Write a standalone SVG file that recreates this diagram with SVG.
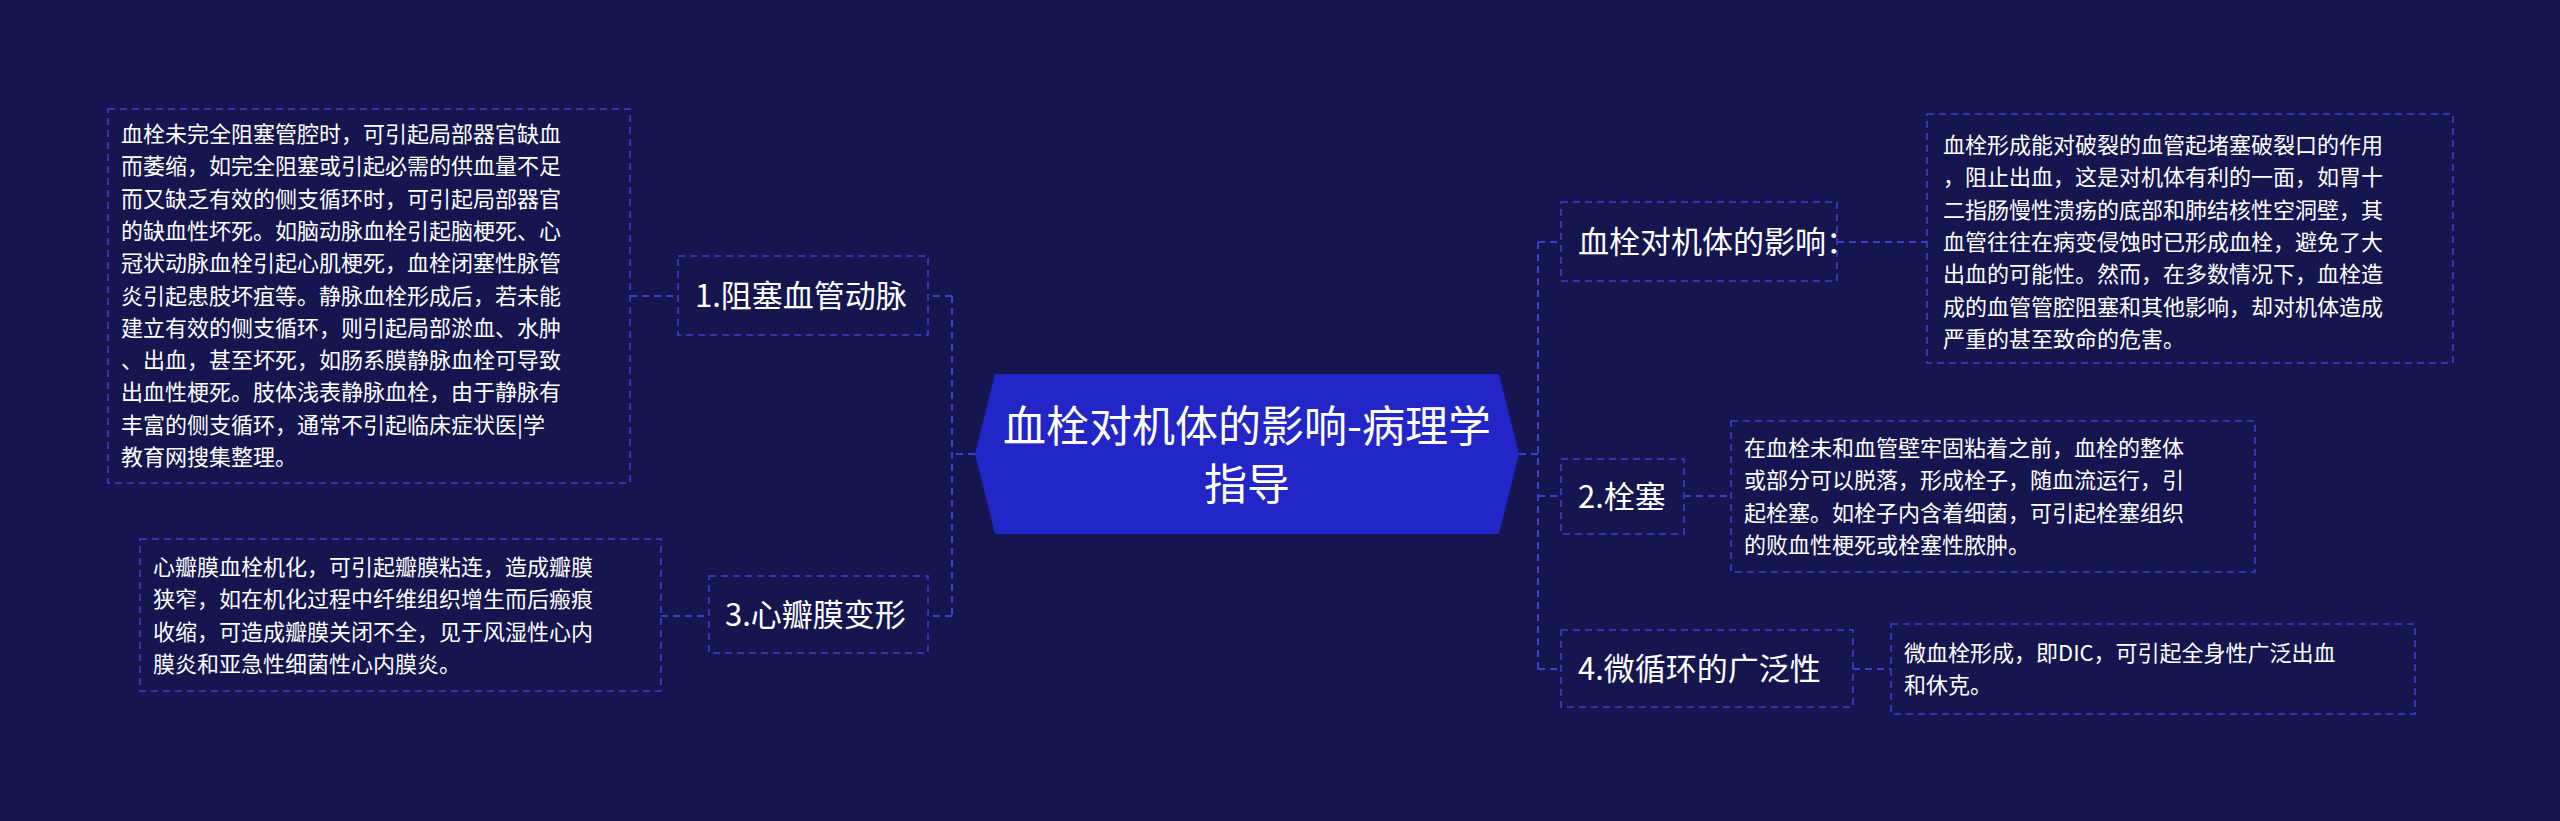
<svg xmlns="http://www.w3.org/2000/svg" width="2560" height="821" viewBox="0 0 2560 821">
<style>
.bx{fill:none;stroke:#3a3fd0;stroke-width:1.6;stroke-dasharray:7 5}
.ln{fill:none;stroke:#3a3fd0;stroke-width:2;stroke-dasharray:7 5}
.t{font-family:"Noto Sans CJK SC","Noto Sans",sans-serif;fill:#fff}
.s{font-size:22px}
.n{font-size:31px}
</style>
<rect width="2560" height="821" fill="#15164f"/>
<g id="connectors">
<path class="ln" d="M975 454H952M952 296V616M952 296H928M952 616H928M630 296H678M661 616H709"/>
<path class="ln" d="M1519 454H1538M1538 242V669M1538 242H1561M1538 496H1561M1538 669H1561M1837 242H1927M1684 496H1731M1853 669H1891"/>
</g>
<g id="center">
<polygon points="975,454 995,374 1499,374 1519,454 1499,534 995,534" fill="#2326c6"/>
<text class="t" x="1247" y="442" font-size="43" text-anchor="middle">血栓对机体的影响-病理学</text>
<text class="t" x="1247" y="500" font-size="43" text-anchor="middle">指导</text>
</g>
<g id="n1">
<rect class="bx" x="678" y="256" width="250" height="79"/>
<text class="t n" x="695" y="307">1.阻塞血管动脉</text>
</g>
<g id="d1">
<rect class="bx" x="108" y="109" width="522" height="374"/>
<text class="t s" x="121" y="142"><tspan x="121">血栓未完全阻塞管腔时，可引起局部器官缺血</tspan><tspan x="121" dy="32.3">而萎缩，如完全阻塞或引起必需的供血量不足</tspan><tspan x="121" dy="32.3">而又缺乏有效的侧支循环时，可引起局部器官</tspan><tspan x="121" dy="32.3">的缺血性坏死。如脑动脉血栓引起脑梗死、心</tspan><tspan x="121" dy="32.3">冠状动脉血栓引起心肌梗死，血栓闭塞性脉管</tspan><tspan x="121" dy="32.3">炎引起患肢坏疽等。静脉血栓形成后，若未能</tspan><tspan x="121" dy="32.3">建立有效的侧支循环，则引起局部淤血、水肿</tspan><tspan x="121" dy="32.3">、出血，甚至坏死，如肠系膜静脉血栓可导致</tspan><tspan x="121" dy="32.3">出血性梗死。肢体浅表静脉血栓，由于静脉有</tspan><tspan x="121" dy="32.3">丰富的侧支循环，通常不引起临床症状医|学</tspan><tspan x="121" dy="32.3">教育网搜集整理。</tspan></text>
</g>
<g id="n3">
<rect class="bx" x="709" y="576" width="219" height="77"/>
<text class="t n" x="725" y="626">3.心瓣膜变形</text>
</g>
<g id="d3">
<rect class="bx" x="140" y="539" width="521" height="152"/>
<text class="t s" x="153" y="575"><tspan x="153">心瓣膜血栓机化，可引起瓣膜粘连，造成瓣膜</tspan><tspan x="153" dy="32.3">狭窄，如在机化过程中纤维组织增生而后瘢痕</tspan><tspan x="153" dy="32.3">收缩，可造成瓣膜关闭不全，见于风湿性心内</tspan><tspan x="153" dy="32.3">膜炎和亚急性细菌性心内膜炎。</tspan></text>
</g>
<g id="n0">
<rect class="bx" x="1561" y="202" width="276" height="79"/>
<text class="t n" x="1578" y="253">血栓对机体的影响：</text>
</g>
<g id="d0">
<rect class="bx" x="1927" y="114" width="526" height="249"/>
<text class="t s" x="1943" y="153"><tspan x="1943">血栓形成能对破裂的血管起堵塞破裂口的作用</tspan><tspan x="1943" dy="32.3">，阻止出血，这是对机体有利的一面，如胃十</tspan><tspan x="1943" dy="32.3">二指肠慢性溃疡的底部和肺结核性空洞壁，其</tspan><tspan x="1943" dy="32.3">血管往往在病变侵蚀时已形成血栓，避免了大</tspan><tspan x="1943" dy="32.3">出血的可能性。然而，在多数情况下，血栓造</tspan><tspan x="1943" dy="32.3">成的血管管腔阻塞和其他影响，却对机体造成</tspan><tspan x="1943" dy="32.3">严重的甚至致命的危害。</tspan></text>
</g>
<g id="n2">
<rect class="bx" x="1561" y="459" width="123" height="75"/>
<text class="t n" x="1578" y="508">2.栓塞</text>
</g>
<g id="d2">
<rect class="bx" x="1731" y="421" width="524" height="151"/>
<text class="t s" x="1744" y="456"><tspan x="1744">在血栓未和血管壁牢固粘着之前，血栓的整体</tspan><tspan x="1744" dy="32.3">或部分可以脱落，形成栓子，随血流运行，引</tspan><tspan x="1744" dy="32.3">起栓塞。如栓子内含着细菌，可引起栓塞组织</tspan><tspan x="1744" dy="32.3">的败血性梗死或栓塞性脓肿。</tspan></text>
</g>
<g id="n4">
<rect class="bx" x="1561" y="630" width="292" height="77"/>
<text class="t n" x="1578" y="680">4.微循环的广泛性</text>
</g>
<g id="d4">
<rect class="bx" x="1891" y="624" width="524" height="90"/>
<text class="t s" x="1904" y="661"><tspan x="1904">微血栓形成，即DIC，可引起全身性广泛出血</tspan><tspan x="1904" dy="32.3">和休克。</tspan></text>
</g>
</svg>
